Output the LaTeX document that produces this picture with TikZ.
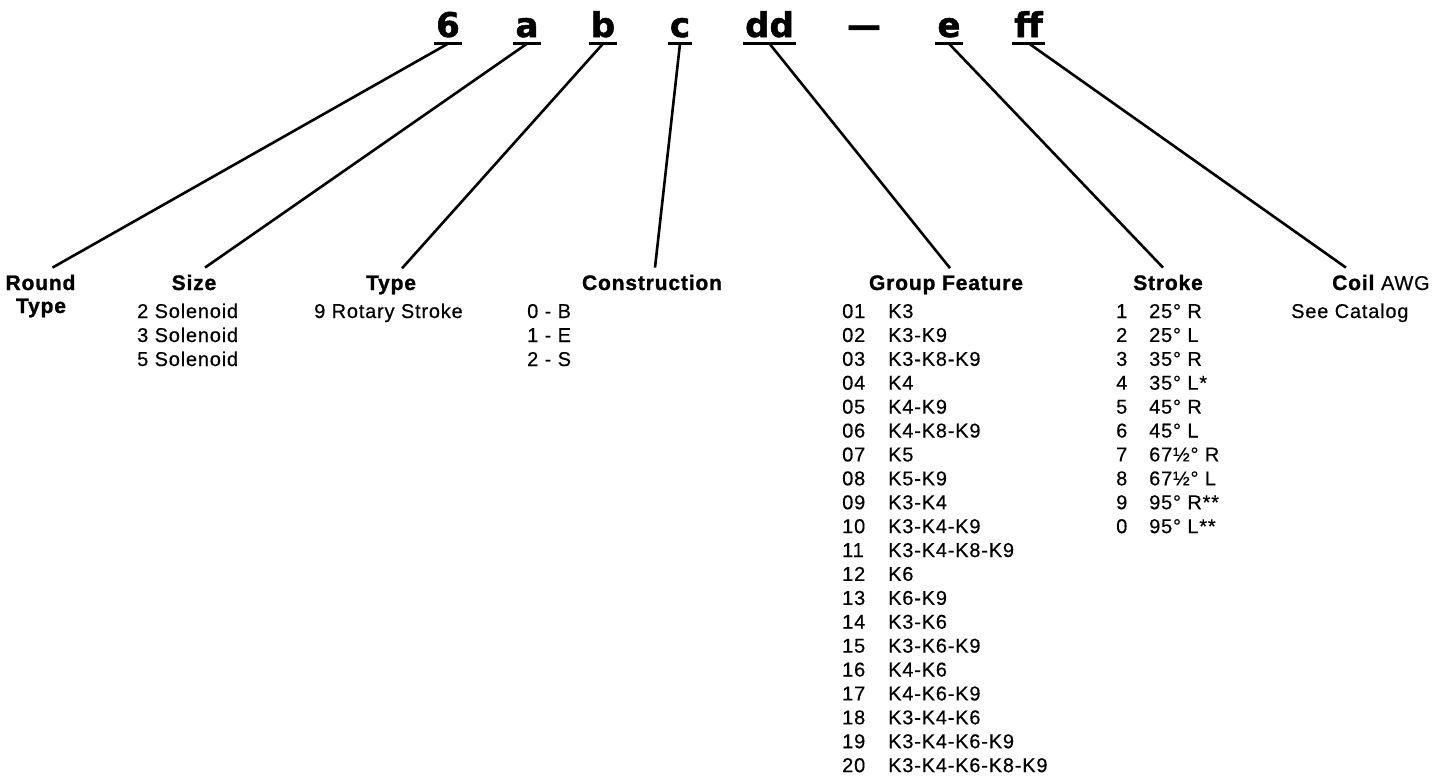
\documentclass[tikz,border=0pt]{standalone}
\usepackage{fontspec}
\setmainfont{Liberation Sans}[LetterSpace=4, FakeBold=0.4, BoldFeatures={FakeBold=1.2}]
\newfontfamily\codefam{DejaVu Sans Bold}[FakeBold=1.5, Ligatures=NoCommon]
\usepackage{tikz}

\newcommand\itemfont{\fontsize{20}{24}\selectfont}
\newcommand\headfont{\fontsize{21}{24}\selectfont\bfseries}
\newcommand\codefont{\fontsize{34}{40}\selectfont\codefam}

\tikzset{
  head/.style={font=\headfont, anchor=base, inner xsep=0pt, inner ysep=7pt},
  item/.style={font=\itemfont, anchor=base west, inner sep=0pt},
  code/.style={font=\codefont, anchor=base, inner xsep=2pt, inner ysep=6pt},
  link/.style={line width=2.6pt},
  bar/.style={line width=3pt}
}

\begin{document}
\begin{tikzpicture}[x=1pt,y=-1pt]
\useasboundingbox (0,0) rectangle (1447,777);

% part number
\node[code] (c6) at (448,37) {6};
\node[code] (ca) at (527,37) {a};
\node[code] (cb) at (603,37) {b};
\node[code] (cc) at (680,37) {c};
\node[code] (cdd) at (769.5,37) {dd};
\node[code] (cdash) at (864,37) {—};
\node[code] (ce) at (949,37) {e};
\node[code] (cff) at (1028.5,37) {f\kern-1pt f};
\foreach \c in {c6,ca,cb,cc,cdd,ce,cff}
  \draw[bar] (\c.south west) -- (\c.south east);

% headings
\node[head] (hround) at (40.5,290) {Round};
\node[head] (hround2) at (41,313) {Type};
\node[head] (hsize) at (194,290) {Size};
\node[head] (htype) at (391,290) {Type};
\node[head] (hcons) at (652,290) {Construction};
\node[head] (hgroup) at (946,290) {Group Feature};
\node[head] (hstroke) at (1168,290) {Stroke};
\node[head, anchor=base west] (hcoil) at (1332,290) {Coil {\mdseries\itemfont AWG}};

% leaders
\foreach \a/\b/\s in {c6/hround/12, ca/hsize/11, cb/htype/11, cc/hcons/3,
    cdd/hgroup/4, ce/hstroke/-5, cff/hcoil/-35}
  \draw[link] (\a.south) -- ([xshift=\s pt]\b.north);

% size
\foreach \t [count=\i from 0] in {2 Solenoid, 3 Solenoid, 5 Solenoid}
  \node[item] (s\i) at (137,{318+24*\i}) {\t};
% type
\node[item] (t0) at (314,318) {9 Rotary Stroke};
% construction
\foreach \t [count=\i from 0] in {0 - B, 1 - E, 2 - S}
  \node[item] (k\i) at (527,{318+24*\i}) {\t};

% group feature
\foreach \n/\t [count=\i from 0] in {01/K3, 02/K3-K9, 03/K3-K8-K9, 04/K4, 05/K4-K9,
    06/K4-K8-K9, 07/K5, 08/K5-K9, 09/K3-K4, 10/K3-K4-K9, 11/K3-K4-K8-K9,
    12/K6, 13/K6-K9, 14/K3-K6, 15/K3-K6-K9, 16/K4-K6, 17/K4-K6-K9,
    18/K3-K4-K6, 19/K3-K4-K6-K9, 20/K3-K4-K6-K8-K9} {
  \node[item] (gn\i) at (842,{318+23.9*\i}) {\n};
  \node[item] (gk\i) at (888,{318+23.9*\i}) {\t};
}

% stroke
\foreach \n/\t [count=\i from 0] in {1/25° R, 2/25° L, 3/35° R, 4/35° L*, 5/45° R,
    6/45° L, 7/67½° R, 8/67½° L, 9/95° R**, 0/95° L**} {
  \node[item] (sn\i) at (1116,{318+23.9*\i}) {\n};
  \node[item] (sv\i) at (1149,{318+23.9*\i}) {\t};
}

% coil
\node[item] (see) at (1291,318) {See Catalog};
\end{tikzpicture}
\end{document}
